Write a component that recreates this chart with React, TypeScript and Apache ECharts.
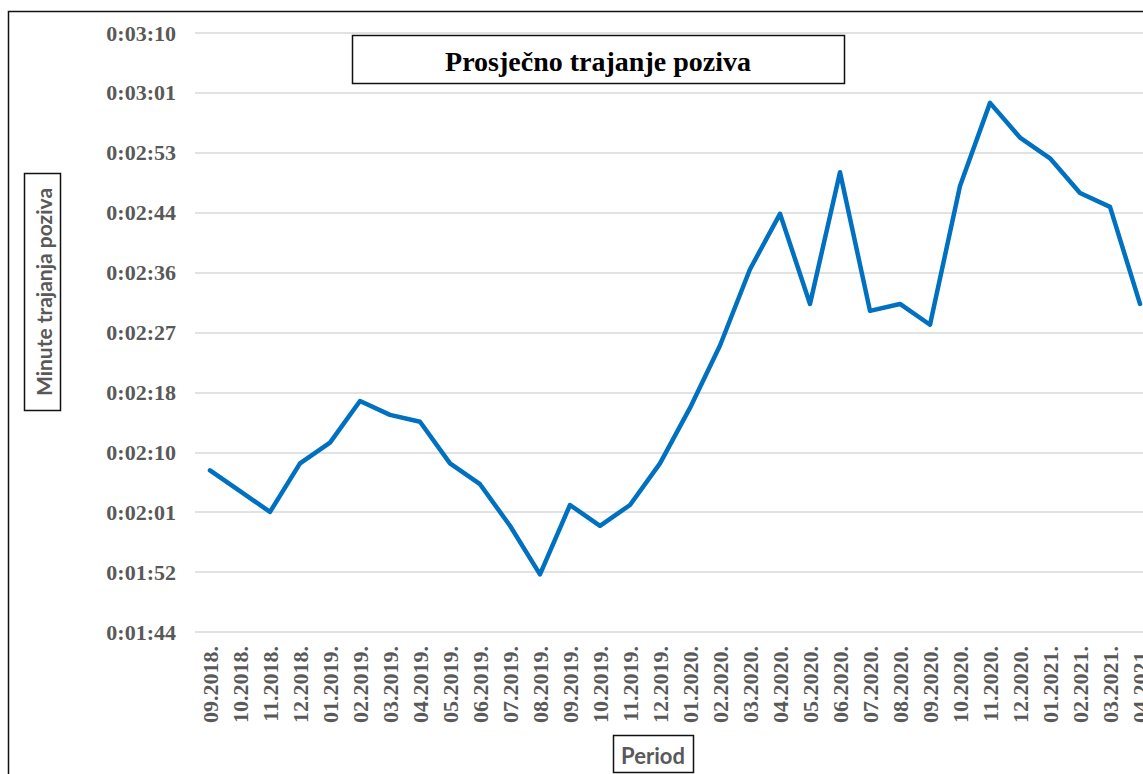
import React, { useEffect, useRef } from "react";
import * as echarts from "echarts";

const categories = [
  "09.2018.", "10.2018.", "11.2018.", "12.2018.",
  "01.2019.", "02.2019.", "03.2019.", "04.2019.", "05.2019.", "06.2019.",
  "07.2019.", "08.2019.", "09.2019.", "10.2019.", "11.2019.", "12.2019.",
  "01.2020.", "02.2020.", "03.2020.", "04.2020.", "05.2020.", "06.2020.",
  "07.2020.", "08.2020.", "09.2020.", "10.2020.", "11.2020.", "12.2020.",
  "01.2021.", "02.2021.", "03.2021.", "04.2021.",
];

// average call duration in seconds
const durationSeconds = [
  127, 124, 121, 128,
  131, 137, 135, 134, 128, 125,
  119, 112, 122, 119, 122, 128,
  136, 145, 156, 164, 151, 170,
  150, 151, 148, 168, 180, 175,
  172, 167, 165, 151,
];

const titleText = "Prosječno trajanje poziva";
const yAxisTitle = "Minute trajanja poziva";
const xAxisTitle = "Period";

// axis in seconds: 0:01:44 (0.0012 d) .. 0:03:10 (0.0022 d), step 0.0001 d
const yMin = 103.68;
const yMax = 190.08;
const yStep = 8.64;

const pad = (n: number) => (n < 10 ? "0" + n : "" + n);
const fmtTime = (v: number) => {
  const s = Math.round(v);
  return "0:" + pad(Math.floor(s / 60)) + ":" + pad(s % 60);
};

export default function App() {
  const ref = useRef<HTMLDivElement>(null);
  useEffect(() => {
    if (!ref.current) return;
    const chart = echarts.init(ref.current, null, { renderer: "svg" });
    chart.setOption({
      animation: false,
      backgroundColor: "#ffffff",
      grid: { left: 195, top: 33, right: 5, height: 599, containLabel: false },
      xAxis: {
        type: "category",
        data: categories,
        boundaryGap: true,
        axisLine: { show: false },
        axisTick: { show: false },
        axisLabel: {
          rotate: 90,
          interval: 0,
          margin: 14,
          color: "#595959",
          fontFamily: "Liberation Serif",
          fontWeight: "bold",
          fontSize: 22,
        },
        splitLine: { show: false },
      },
      yAxis: {
        type: "value",
        min: yMin,
        max: yMax,
        interval: yStep,
        axisLine: { show: false },
        axisTick: { show: false },
        axisLabel: {
          formatter: fmtTime,
          margin: 19,
          color: "#595959",
          fontFamily: "Liberation Serif",
          fontWeight: "bold",
          fontSize: 22,
        },
        splitLine: { show: true, lineStyle: { color: "#d9d9d9", width: 1.5 } },
      },
      series: [
        {
          type: "line",
          data: durationSeconds,
          showSymbol: false,
          symbol: "none",
          lineStyle: { color: "#0070C0", width: 4.5, join: "round", cap: "round" },
        },
      ],
      graphic: [
        {
          type: "rect",
          shape: { x: 8.5, y: 11.5, width: 1300, height: 900 },
          style: { fill: "none", stroke: "#111", lineWidth: 1.5 },
          silent: true,
          z: 100,
        },
        {
          type: "rect",
          shape: { x: 352.5, y: 35.5, width: 492, height: 48 },
          style: { fill: "#ffffff", stroke: "#111", lineWidth: 1.5 },
          z: 100,
        },
        {
          type: "text",
          x: 598,
          y: 61,
          style: {
            text: titleText,
            fill: "#000",
            font: "bold 28px 'Liberation Serif'",
            align: "center",
            verticalAlign: "middle",
          },
          z: 101,
        },
        {
          type: "rect",
          shape: { x: 24.5, y: 173.5, width: 36, height: 237 },
          style: { fill: "#ffffff", stroke: "#111", lineWidth: 1.5 },
          z: 100,
        },
        {
          type: "text",
          x: 43,
          y: 292,
          rotation: Math.PI / 2,
          style: {
            text: yAxisTitle,
            fill: "#595959",
            font: "bold 21px Lato",
            align: "center",
            verticalAlign: "middle",
          },
          z: 101,
        },
        {
          type: "rect",
          shape: { x: 613.5, y: 735.5, width: 80, height: 37 },
          style: { fill: "#ffffff", stroke: "#111", lineWidth: 1.5 },
          z: 100,
        },
        {
          type: "text",
          x: 653,
          y: 755,
          style: {
            text: xAxisTitle,
            fill: "#595959",
            font: "bold 22px Lato",
            align: "center",
            verticalAlign: "middle",
          },
          z: 101,
        },
      ],
    });
    return () => chart.dispose();
  }, []);
  return (
    <div style={{ position: "fixed", left: 0, top: 0, width: 1143, height: 774, overflow: "hidden" }}>
      <div ref={ref} style={{ width: 1160, height: 774 }} />
    </div>
  );
}
